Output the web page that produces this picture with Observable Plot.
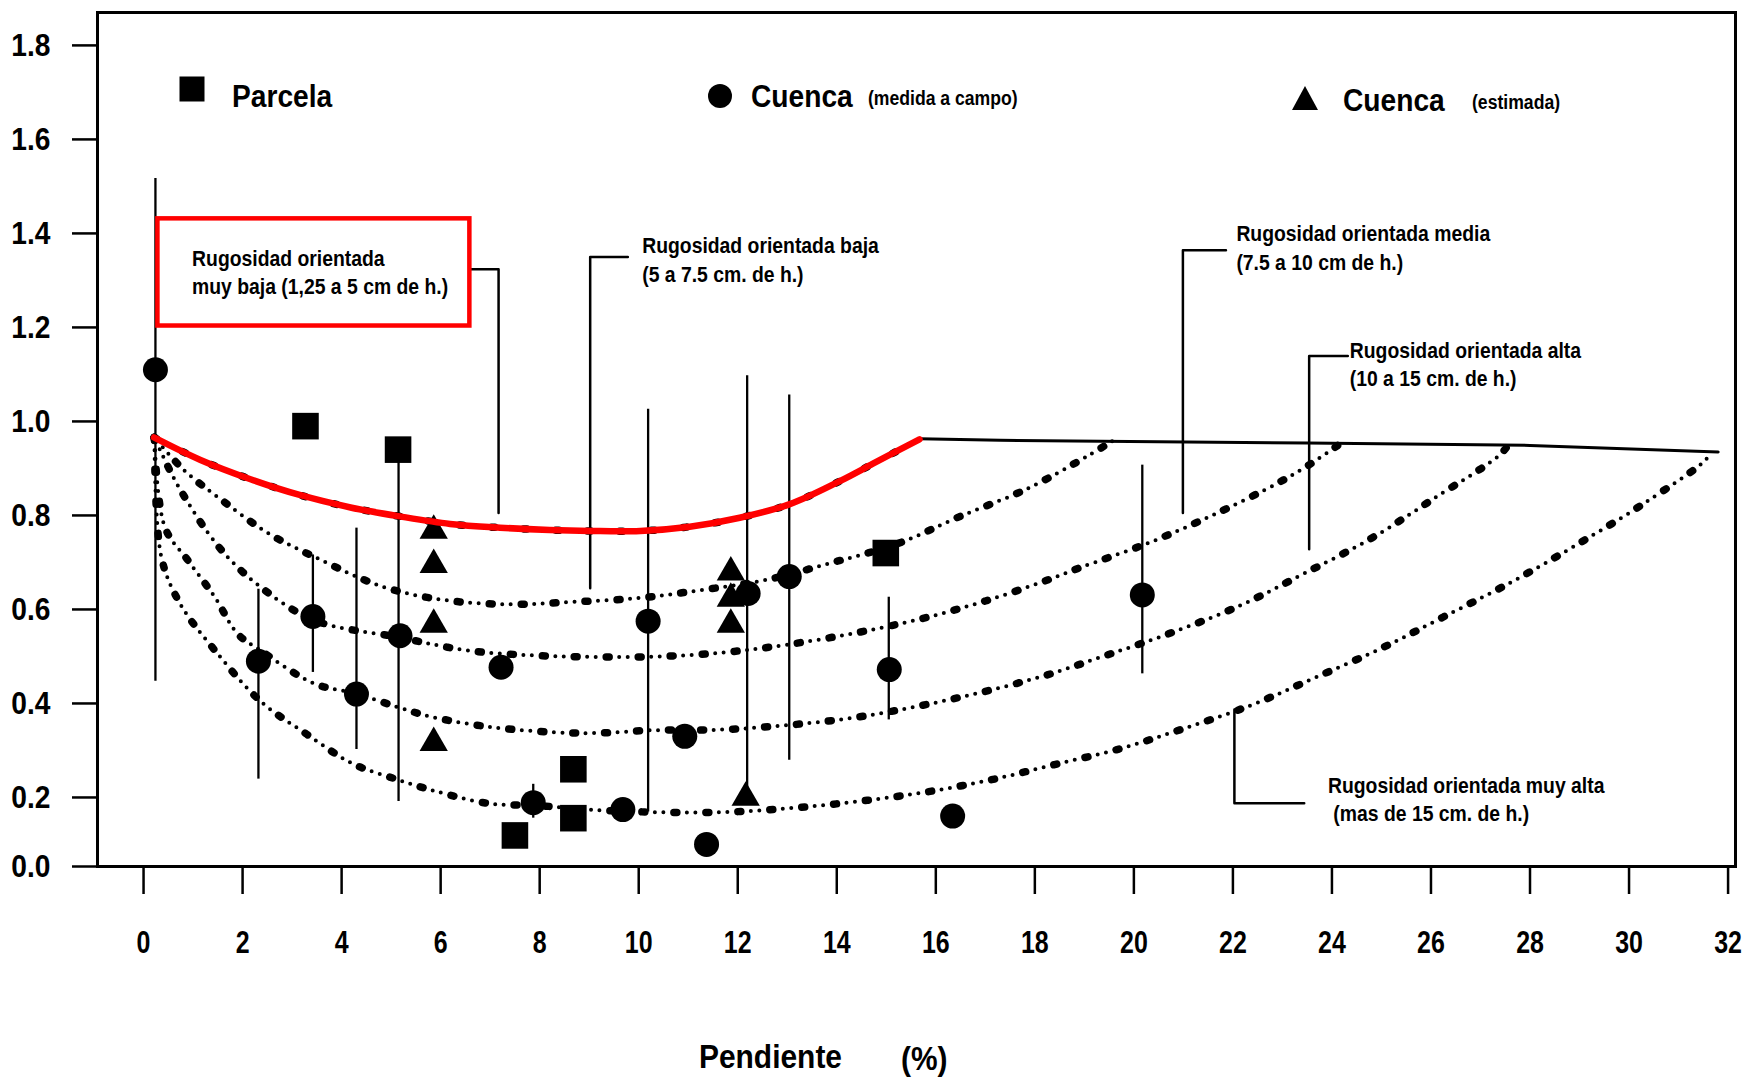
<!DOCTYPE html>
<html>
<head>
<meta charset="utf-8">
<script src="https://cdn.jsdelivr.net/npm/d3@7"></script>
<script src="https://cdn.jsdelivr.net/npm/@observablehq/plot@0.6"></script>
<style>
  body { margin: 0; background: #fff; }
  #wrap { position: relative; width: 1749px; height: 1088px; background: #fff;
          font-family: "Liberation Sans", Arial, sans-serif; color: #000; }
  .lg { position: absolute; font-weight: bold; white-space: nowrap; line-height: 1; }
  .lg svg { display: block; }
  .nar { display: inline-block; transform: scaleX(0.88); transform-origin: left center; }
</style>
</head>
<body>
<div id="wrap"></div>
<script>
// ---------------- data ----------------
const xTicks = [0, 2, 4, 6, 8, 10, 12, 14, 16, 18, 20, 22, 24, 26, 28, 30, 32];
const yTicks = [0, 0.2, 0.4, 0.6, 0.8, 1.0, 1.2, 1.4, 1.6, 1.8];

// Parcela (squares)
const parcelaX = [3.27, 5.14, 7.50, 8.68, 8.68, 14.99];
const parcelaY = [0.99, 0.94, 0.09, 0.26, 0.14, 0.72];

// Cuenca medida a campo (circles)
const medidaX = [0.24, 2.32, 3.42, 4.30, 5.18, 7.22, 7.87, 9.68, 10.19, 10.93, 11.37, 12.21, 13.04, 15.06, 16.34, 20.17];
const medidaY = [1.11, 0.49, 0.585, 0.42, 0.544, 0.477, 0.185, 0.165, 0.575, 0.33, 0.064, 0.634, 0.67, 0.472, 0.146, 0.631];

// Cuenca estimada (triangles)
const estimadaX = [5.86, 5.86, 5.86, 5.86, 11.86, 11.86, 11.86, 12.16];
const estimadaY = [0.768, 0.695, 0.568, 0.316, 0.679, 0.623, 0.568, 0.20];

// vertical range bars
const barX    = [0.24, 2.32, 3.42, 4.30, 5.15, 7.87, 10.19, 12.19, 13.04, 15.05, 20.17];
const barLow  = [0.447, 0.239, 0.466, 0.302, 0.188, 0.14, 0.158, 0.194, 0.279, 0.365, 0.463];
const barHigh = [1.517, 0.643, 0.716, 0.773, 0.94, 0.228, 1.026, 1.097, 1.056, 0.626, 0.907];

// curves (Rugosidad orientada ...)
const muyBajaX = [0.21, 1.15, 2.16, 3.17, 4.18, 5.18, 6.19, 7.2, 8.2, 9.02, 10.03, 11.03, 12.04, 13.05, 14.06, 14.73, 15.67];
const muyBajaY = [0.966, 0.918, 0.877, 0.843, 0.817, 0.798, 0.782, 0.774, 0.769, 0.767, 0.767, 0.776, 0.795, 0.824, 0.873, 0.91, 0.962];

const bajaX = [0.22, 0.82, 1.59, 2.52, 3.45, 4.84, 6.15, 7.46, 8.67, 9.98, 11.25, 12.53, 13.92, 15.23, 16.47, 17.85, 19.09, 19.62];
const bajaY = [0.966, 0.896, 0.832, 0.762, 0.712, 0.648, 0.619, 0.611, 0.616, 0.624, 0.641, 0.662, 0.70, 0.74, 0.797, 0.857, 0.928, 0.962];

const mediaX = [0.22, 0.67, 1.52, 2.36, 3.45, 5.14, 6.53, 7.92, 9.16, 10.44, 11.76, 12.99, 14.38, 15.70, 17.0, 18.24, 18.94, 20.26, 21.58, 22.89, 23.53, 24.2];
const mediaY = [0.966, 0.868, 0.733, 0.648, 0.577, 0.541, 0.513, 0.502, 0.499, 0.50, 0.509, 0.525, 0.55, 0.58, 0.618, 0.662, 0.69, 0.74, 0.80, 0.868, 0.907, 0.955];

const altaX = [0.22, 0.43, 0.9, 1.44, 1.9, 2.36, 3.45, 4.29, 5.14, 5.84, 7.0, 8.23, 9.16, 10.29, 11.60, 12.92, 14.23, 15.54, 16.85, 18.16, 19.43, 20.80, 22.16, 23.43, 24.79, 26.06, 27.38, 27.6];
const altaY = [0.966, 0.775, 0.704, 0.626, 0.548, 0.513, 0.442, 0.421, 0.392, 0.371, 0.35, 0.339, 0.337, 0.343, 0.344, 0.353, 0.368, 0.392, 0.422, 0.458, 0.502, 0.552, 0.609, 0.676, 0.751, 0.836, 0.928, 0.955];

const muyAltaX = [0.22, 0.36, 0.74, 1.44, 2.36, 3.29, 4.22, 5.07, 5.84, 7.0, 7.9, 9.21, 10.52, 11.83, 13.15, 14.46, 15.77, 17.09, 18.40, 19.73, 20.99, 22.36, 23.62, 24.99, 26.25, 27.62, 28.98, 30.35, 31.57, 31.65];
const muyAltaY = [0.966, 0.711, 0.612, 0.513, 0.405, 0.335, 0.272, 0.24, 0.215, 0.182, 0.177, 0.163, 0.157, 0.158, 0.17, 0.189, 0.211, 0.237, 0.27, 0.304, 0.346, 0.396, 0.453, 0.517, 0.584, 0.658, 0.74, 0.829, 0.921, 0.94];

// upper solid limit line
const limitX = [15.67, 17.3, 23.5, 28.0, 31.8];
const limitY = [0.963, 0.96, 0.954, 0.949, 0.935];

// annotations
const annoText = [
  "Rugosidad orientada\nmuy baja (1,25 a 5 cm de h.)",
  "Rugosidad orientada baja\n(5 a 7.5 cm. de h.)",
  "Rugosidad orientada media\n(7.5 a 10 cm de h.)",
  "Rugosidad orientada alta\n(10 a 15 cm. de h.)",
  "Rugosidad orientada muy alta\n\u00a0(mas de 15 cm. de h.)"
];
const annoX = [0.98, 10.07, 22.07, 24.36, 23.92];
const annoY = [1.32, 1.347, 1.373, 1.125, 0.199];

// leader lines (one polyline per annotation)
const leaderX = [[6.59, 7.17, 7.17], [9.78, 9.02, 9.02], [21.86, 20.99, 20.99], [24.32, 23.54, 23.54], [22.03, 22.03, 23.44]];
const leaderY = [[1.324, 1.324, 0.805], [1.35, 1.35, 0.645], [1.364, 1.364, 0.805], [1.139, 1.139, 0.728], [0.387, 0.183, 0.183]];

// highlighted box around the "muy baja" label
const boxX = [0.29, 6.59];
const boxY = [1.203, 1.431];

// ---------------- build tables ----------------
const pts = (xs, ys) => xs.map((x, i) => ({x, y: ys[i]}));
const parcela = pts(parcelaX, parcelaY);
const medida = pts(medidaX, medidaY);
const estimada = pts(estimadaX, estimadaY);
const bars = barX.map((x, i) => ({x, y1: barLow[i], y2: barHigh[i]}));
const dottedCurves = [
  pts(muyBajaX, muyBajaY), pts(bajaX, bajaY), pts(mediaX, mediaY), pts(altaX, altaY), pts(muyAltaX, muyAltaY)
].flatMap((c, k) => c.map(d => ({...d, k})));
const redCurve = pts(muyBajaX, muyBajaY);
const limit = pts(limitX, limitY);
const annos = annoText.map((t, i) => ({text: t, x: annoX[i], y: annoY[i]}));
const leaders = leaderX.flatMap((xs, k) => xs.map((x, i) => ({x, y: leaderY[k][i], k})));
const box = [{x1: boxX[0], x2: boxX[1], y1: boxY[0], y2: boxY[1]}];

// the printed y axis is compressed between 0 and 0.2 (69 px) versus 469.8 px per unit above
const lowK = 69 / (0.2 * 469.8);
const yWarp = v => v <= 0.2 ? v * lowK : 0.2 * lowK + (v - 0.2);

const FONT = '"Liberation Sans", Arial, sans-serif';

const plot = Plot.plot({
  width: 1749,
  height: 1000,
  marginLeft: 97,
  marginRight: 14,
  marginTop: 12,
  marginBottom: 134,
  x: {domain: [-0.93, 32.15]},
  y: {transform: yWarp, domain: [0, yWarp(1.87)]},
  style: {fontFamily: FONT, background: "#fff", color: "#000", overflow: "visible"},
  marks: [
    Plot.axisX(xTicks, {tickSize: 28, tickPadding: 36, tickFormat: d => String(d), fontSize: 32, fontWeight: "bold", strokeWidth: 2.5, label: null}),
    Plot.axisY(yTicks, {tickSize: 25, tickPadding: 22, tickFormat: d => d.toFixed(1), fontSize: 32, fontWeight: "bold", strokeWidth: 2.5, label: null}),
    // dotted curves: one large dot followed by two small dots
    Plot.line(dottedCurves, {x: "x", y: "y", z: "k", curve: "catmull-rom", stroke: "black", strokeWidth: 7.5, strokeLinecap: "round", strokeDasharray: "3 29"}),
    Plot.line(dottedCurves, {x: "x", y: "y", z: "k", curve: "catmull-rom", stroke: "black", strokeWidth: 4, strokeLinecap: "round", strokeDasharray: "0 8.5 0 23.5", strokeDashoffset: -13}),
    Plot.line(limit, {x: "x", y: "y", stroke: "black", strokeWidth: 3}),
    Plot.line(leaders, {x: "x", y: "y", z: "k", stroke: "black", strokeWidth: 2.5}),
    Plot.ruleX(bars, {x: "x", y1: "y1", y2: "y2", stroke: "black", strokeWidth: 2.3}),
    Plot.dot(parcela, {x: "x", y: "y", symbol: "square", r: 15, fill: "black"}),
    Plot.dot(medida, {x: "x", y: "y", symbol: "circle", r: 12.5, fill: "black"}),
    Plot.dot(estimada, {x: "x", y: "y", symbol: "triangle", r: 10.5, fill: "black"}),
    Plot.line(redCurve, {x: "x", y: "y", curve: "catmull-rom", stroke: "#ff0000", strokeWidth: 6.5}),
    Plot.rect(box, {x1: "x1", x2: "x2", y1: "y1", y2: "y2", stroke: "#ff0000", strokeWidth: 4.5, fill: "none"}),
    Plot.text(annos, {x: "x", y: "y", text: "text", textAnchor: "start", lineAnchor: "middle", lineHeight: 1.3, fontSize: 22, fontWeight: "bold", fill: "black"}),
    Plot.frame({stroke: "black", strokeWidth: 3})
  ]
});

// narrow the lettering (the original uses a condensed typeface)
plot.querySelectorAll("text").forEach(el => {
  const s = el.closest('[aria-label="x-axis tick label"]') ? 0.78 : 0.88;
  const x = +el.getAttribute("x") || 0;
  const t = el.getAttribute("transform") || "";
  el.setAttribute("transform", `${t} translate(${x},0) scale(${s},1) translate(${-x},0)`);
});

const wrap = document.getElementById("wrap");
wrap.appendChild(plot);

// ---------------- legend (inside plot area) ----------------
function add(html, left, top) {
  const d = document.createElement("div");
  d.className = "lg";
  d.style.left = left + "px";
  d.style.top = top + "px";
  d.innerHTML = html;
  wrap.appendChild(d);
  return d;
}
add('<svg width="26" height="26"><rect x="0.5" y="0.5" width="25" height="25" fill="#000"/></svg>', 179, 76);
add('<span class="nar" style="font-size:32px">Parcela</span>', 232, 80);
add('<svg width="26" height="26"><circle cx="13" cy="13" r="12" fill="#000"/></svg>', 707, 83);
add('<span class="nar" style="font-size:32px">Cuenca</span>', 751, 80);
add('<span class="nar" style="font-size:20px">(medida a campo)</span>', 868, 88);
add('<svg width="28" height="26"><path d="M14 1 L27 25 L1 25 Z" fill="#000"/></svg>', 1291, 85);
add('<span class="nar" style="font-size:32px">Cuenca</span>', 1343, 84);
add('<span class="nar" style="font-size:20px">(estimada)</span>', 1472, 92);

// x-axis title below the SVG
add('<span class="nar" style="font-size:34px">Pendiente</span>', 699, 1039);
add('<span class="nar" style="font-size:34px">(%)</span>', 901, 1041);
</script>
</body>
</html>
